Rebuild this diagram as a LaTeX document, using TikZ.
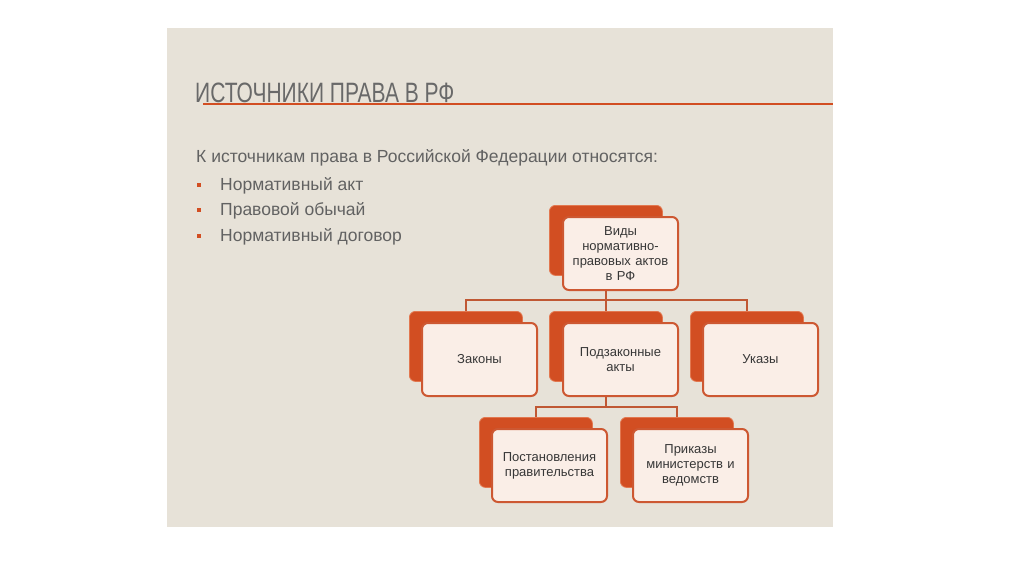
\documentclass[tikz,border=0pt]{standalone}
\usepackage{fontspec}
\setmainfont{Liberation Sans}
\newfontfamily\titlefont[FakeStretch=0.75]{Liberation Sans}
\definecolor{slidebg}{RGB}{231,226,216}
\definecolor{accent}{RGB}{210,78,34}
\definecolor{accentedge}{RGB}{226,120,80}
\definecolor{edge}{RGB}{205,88,50}
\definecolor{frontfill}{RGB}{250,238,231}
\definecolor{txt}{RGB}{98,98,98}
\definecolor{boxtxt}{RGB}{55,55,55}
\definecolor{titlec}{RGB}{105,105,105}
\definecolor{linec}{RGB}{192,88,52}
\begin{document}
\begin{tikzpicture}[x=1pt,y=-1pt,
  backbox/.style={draw=accentedge, line width=0.8pt, fill=accent, rounded corners=6pt,
    minimum width=113pt, minimum height=70pt, anchor=north west, inner sep=0pt},
  frontbox/.style={draw=edge, line width=2pt, fill=frontfill, rounded corners=6pt,
    minimum width=115pt, minimum height=73pt, anchor=north west, inner sep=2pt,
    align=center, text width=110pt, font=\fontsize{13}{15}\selectfont, text=boxtxt},
  conn/.style={draw=linec, line width=1.5pt},
  bodytext/.style={anchor=base west, inner sep=0pt, text=txt, font=\fontsize{17.5}{20}\selectfont},
  bulletsq/.style={fill=accent, inner sep=0pt, minimum size=4pt},
]
\useasboundingbox (0,0) rectangle (1024,574);
\fill[white] (0,0) rectangle (1024,574);
\fill[slidebg] (167,28) rectangle (833,527);

% title
\node[anchor=base west, inner sep=0pt, text=titlec, font=\titlefont\fontsize{28}{30}\selectfont] (title) at (195,102) {ИСТОЧНИКИ ПРАВА В РФ};
\coordinate (rulestart) at (203,104);
\coordinate (ruleend) at (833,104);
\draw[accent, line width=2pt] (rulestart) -- (ruleend);

% body text
\node[bodytext] (intro) at (196,162) {К источникам права в Российской Федерации относятся:};
\node[bodytext] (b1) at (220,190) {Нормативный акт};
\node[bodytext] (b2) at (220,215) {Правовой обычай};
\node[bodytext] (b3) at (220,241) {Нормативный договор};
\node[bulletsq] (s1) at (199,185) {};
\node[bulletsq] (s2) at (199,210) {};
\node[bulletsq] (s3) at (199,236) {};

% boxes: back then front
\node[backbox] (topB) at (549,205) {};
\node[frontbox] (topF) at (562,216) {Виды\\нормативно-\\правовых актов\\в РФ};

\node[backbox] (zakB) at (409,311) {};
\node[frontbox] (zakF) at (421,322) {Законы};

\node[backbox] (podB) at (549,311) {};
\node[frontbox] (podF) at (562,322) {Подзаконные\\акты};

\node[backbox] (ukB) at (690,311) {};
\node[frontbox] (ukF) at (702,322) {Указы};

\node[backbox] (postB) at (479,417) {};
\node[frontbox] (postF) at (491,428) {Постановления\\правительства};

\node[backbox] (prikB) at (620,417) {};
\node[frontbox] (prikF) at (632,428) {Приказы\\министерств и\\ведомств};

% connectors
\coordinate (j1) at ([yshift=-9pt]topB.center |- topF.south);
\draw[conn] (topB.center |- topF.south) -- (j1);
\draw[conn] (j1) -| (zakB.north);
\draw[conn] (j1) -| (ukB.north);
\draw[conn] (j1) -- (podB.north);

\coordinate (j2) at ([yshift=-10pt]podB.center |- podF.south);
\draw[conn] (podB.center |- podF.south) -- (j2);
\draw[conn] (j2) -| (postB.north);
\draw[conn] (j2) -| (prikB.north);
\end{tikzpicture}
\end{document}
